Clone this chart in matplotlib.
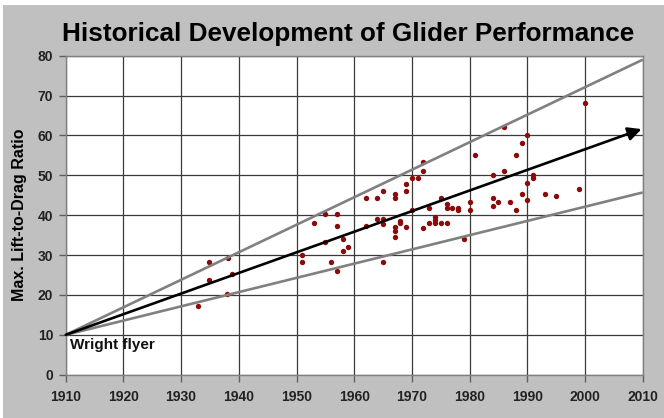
import matplotlib
matplotlib.use("Agg")
import matplotlib.pyplot as plt
from matplotlib.patches import Rectangle

years = [1932.9, 1934.9, 1934.9, 1938.1, 1938.9, 1938.0, 1951, 1951, 1953, 1955,
         1957, 1957, 1955, 1958, 1958, 1959, 1956, 1957, 1962, 1964,
         1965, 1962, 1964, 1965, 1965, 1965, 1967, 1967, 1969, 1969,
         1968, 1968, 1969, 1967, 1967, 1967, 1972, 1972, 1970, 1971,
         1981, 1984, 1975, 1976, 1976, 1977, 1978, 1978, 1980, 1980,
         1984, 1984, 1985, 1973, 1970, 1972, 1973, 1974, 1974, 1974,
         1975, 1976, 1979, 2000, 1986, 1990, 1989, 1988, 1986, 1991,
         1991, 1990, 1987, 1988, 1989, 1990, 1993, 1995, 1999]
ld_ratio = [17.2, 28.2, 23.8, 29.2, 25.3, 20.3, 30.0, 28.2, 38.1, 40.2,
            40.2, 37.2, 33.2, 34.1, 31.1, 32.1, 28.2, 26.1, 44.2, 44.2,
            46.1, 37.2, 39.1, 39.1, 37.8, 28.2, 45.3, 44.2, 47.7, 46.1,
            38.6, 38.0, 37.1, 37.1, 36.1, 34.6, 53.3, 51.1, 49.3, 49.3,
            55.2, 50.1, 44.2, 42.8, 41.9, 41.9, 41.8, 41.2, 43.2, 41.2,
            44.2, 42.4, 43.2, 41.9, 41.3, 36.7, 38.1, 39.5, 38.8, 38.1,
            38.1, 38.1, 34.1, 68.1, 62.1, 60.2, 58.1, 55.1, 51.1, 50.1,
            49.3, 48.1, 43.2, 41.2, 45.2, 43.7, 45.3, 44.7, 46.6]

line_years = [1910, 2010]
upper_bound = [10, 79.0]
lower_bound = [10, 45.7]
trend_start = (1910, 10)
trend_end = (2009.8, 61.6)

x_ticks = list(range(1910, 2011, 10))
y_ticks = list(range(0, 81, 10))

plt.rcParams['font.family'] = ['Liberation Sans', 'DejaVu Sans']

W, H = 664, 418
fig = plt.figure(figsize=(W / 100, H / 100), dpi=100, facecolor='white')
fig.patches.append(Rectangle((3 / W, 0), (W - 3) / W, (H - 5) / H,
                             transform=fig.transFigure, facecolor='#c0c0c0',
                             edgecolor='none', zorder=-10))

ax = fig.add_axes([65.7 / W, 1 - 374.7 / H, 577 / W, 319 / H])
ax.set_facecolor('white')
ax.set_xlim(1910, 2010)
ax.set_ylim(0, 80)
ax.set_xticks(x_ticks)
ax.set_yticks(y_ticks)
ax.grid(True, color='#3a3a3a', lw=0.9, zorder=1)
ax.set_axisbelow(True)
for s in ax.spines.values():
    s.set_color('#808080')
    s.set_linewidth(1.0)
ax.tick_params(axis='both', direction='out', length=5, width=1, color='#606060',
               labelsize=10, labelcolor='#222222', pad=4)
for lab in ax.get_xticklabels() + ax.get_yticklabels():
    lab.set_fontweight('bold')
ax.tick_params(axis='x', pad=6)

ax.scatter(years, ld_ratio, s=15, color='#8b0a0a', zorder=3, linewidths=0)
ax.plot(line_years, upper_bound, color='#808080', lw=1.9, zorder=4, solid_capstyle='butt')
ax.plot(line_years, lower_bound, color='#808080', lw=1.9, zorder=4, solid_capstyle='butt')
ax.annotate('', xy=trend_end, xytext=trend_start,
            arrowprops=dict(arrowstyle='-|>', color='black', lw=1.9,
                            mutation_scale=20, shrinkA=0, shrinkB=0),
            zorder=5, annotation_clip=False)

ax.text(1910.7, 6.4, 'Wright flyer', fontsize=11, fontweight='bold',
        color='#111111', ha='left', va='baseline', zorder=6)

ax.set_ylabel('Max. Lift-to-Drag Ratio', fontsize=11.5, fontweight='bold',
              color='black', labelpad=8)
fig.text(348.5 / W, 1 - 41 / H, 'Historical Development of Glider Performance',
         fontsize=18.8, fontweight='bold', ha='center', va='baseline', color='black')

fig.savefig('out.png', dpi=100, facecolor=fig.get_facecolor())
